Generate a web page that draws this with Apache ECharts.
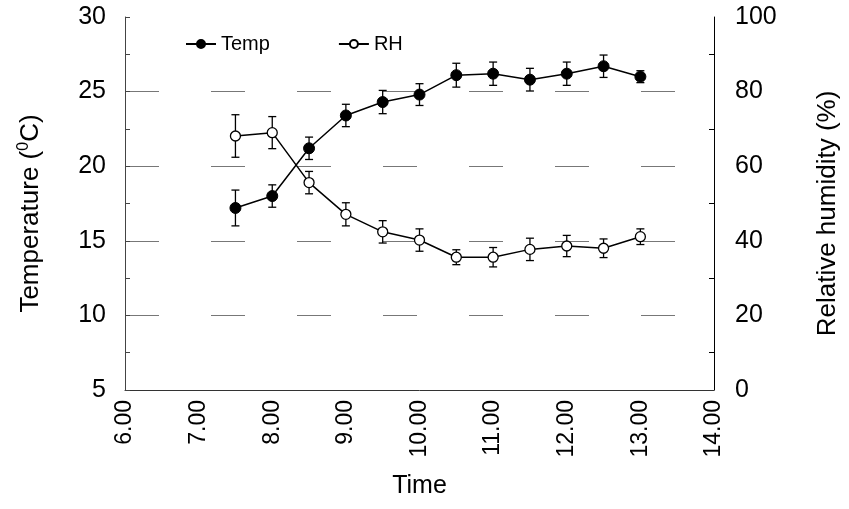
<!DOCTYPE html>
<html>
<head>
<meta charset="utf-8">
<script src="https://cdn.jsdelivr.net/npm/echarts@6/dist/echarts.min.js"></script>
<style>html,body{margin:0;padding:0;background:#fff;}#c{width:849px;height:509px;}</style>
</head>
<body>
<div id="c"></div>
<script>
// ---- data ----
const times   = [7.5, 8.0, 8.5, 9.0, 9.5, 10.0, 10.5, 11.0, 11.5, 12.0, 12.5, 13.0];
const temp    = [17.2, 18.0, 21.2, 23.4, 24.3, 24.8, 26.1, 26.2, 25.8, 26.2, 26.7, 26.0];
const tempErr = [1.2, 0.75, 0.75, 0.75, 0.78, 0.73, 0.8, 0.78, 0.76, 0.78, 0.75, 0.4];
const rh      = [68.1, 69.0, 55.6, 47.1, 42.4, 40.2, 35.6, 35.6, 37.7, 38.6, 38.0, 41.1];
const rhErr   = [5.7, 4.3, 3.0, 3.1, 3.0, 3.0, 2.0, 2.6, 3.0, 2.85, 2.5, 2.1];
const seriesNames = ['Temp', 'RH'];

const FONT = 'Liberation Sans, Arial, sans-serif';

function pairs(xs, ys) { return xs.map((x, i) => [x, ys[i]]); }
function errData(xs, ys, es) { return xs.map((x, i) => [x, ys[i] - es[i], ys[i] + es[i]]); }

function errRender(params, api) {
  const x = api.value(0), lo = api.value(1), hi = api.value(2);
  const p1 = api.coord([x, hi]);
  const p2 = api.coord([x, lo]);
  const w = 4;
  const st = { stroke: '#000', lineWidth: 1.3 };
  return {
    type: 'group',
    children: [
      { type: 'line', shape: { x1: p1[0], y1: p1[1], x2: p2[0], y2: p2[1] }, style: st },
      { type: 'line', shape: { x1: p1[0] - w, y1: p1[1], x2: p1[0] + w, y2: p1[1] }, style: st },
      { type: 'line', shape: { x1: p2[0] - w, y1: p2[1], x2: p2[0] + w, y2: p2[1] }, style: st }
    ]
  };
}

const chart = echarts.init(document.getElementById('c'), null, { renderer: 'canvas' });
chart.setOption({
  animation: false,
  backgroundColor: '#fff',
  textStyle: { fontFamily: FONT, color: '#000' },
  grid: { left: 125, right: 132, top: 17, bottom: 119, containLabel: false },
  legend: {
    left: 185, top: 34, padding: 0,
    itemWidth: 30, itemHeight: 10, itemGap: 68,
    data: seriesNames,
    textStyle: { fontFamily: FONT, fontSize: 20, color: '#000' }
  },
  xAxis: {
    type: 'value', min: 6, max: 14, interval: 1,
    name: 'Time', nameLocation: 'middle', nameGap: 84,
    nameTextStyle: { fontFamily: FONT, fontSize: 25, color: '#000' },
    axisLine: { lineStyle: { color: '#333', width: 1 } },
    axisTick: { show: false },
    axisLabel: { rotate: 90, margin: 10, fontFamily: FONT, fontSize: 23, color: '#000',
                 formatter: v => v.toFixed(2) },
    splitLine: { show: false }
  },
  yAxis: [
    {
      type: 'value', min: 5, max: 30, interval: 5,
      name: '{a|Temperature (}{s|0}{a|C)}', nameLocation: 'middle', nameRotate: 90, nameGap: 79,
      nameTextStyle: {
        padding: [0, 20, 0, 0],
        rich: {
          a: { fontFamily: FONT, fontSize: 26, color: '#000', lineHeight: 30 },
          s: { fontFamily: FONT, fontSize: 16, color: '#000', lineHeight: 16, verticalAlign: 'top' }
        }
      },
      axisLine: { show: true, lineStyle: { color: '#444', width: 1 } },
      axisTick: { show: true, inside: true, length: 5, lineStyle: { color: '#444' } },
      minorTick: { show: true, splitNumber: 2, length: 5, lineStyle: { color: '#444' } },
      axisLabel: { margin: 19, fontFamily: FONT, fontSize: 25, color: '#000' },
      splitLine: { show: true, showMaxLine: false, showMinLine: false,
                   lineStyle: { color: '#777', width: 1, type: [34, 52] } }
    },
    {
      type: 'value', min: 0, max: 100, interval: 20,
      name: 'Relative humidity (%)', nameLocation: 'middle', nameRotate: 90, nameGap: 101,
      nameTextStyle: { fontFamily: FONT, fontSize: 26, color: '#000', padding: [0, 20, 0, 0] },
      axisLine: { show: true, lineStyle: { color: '#000', width: 1 } },
      axisTick: { show: false, inside: true },
      minorTick: { show: true, splitNumber: 2, length: 5, lineStyle: { color: '#000' } },
      axisLabel: { margin: 21, fontFamily: FONT, fontSize: 25, color: '#000' },
      splitLine: { show: false }
    }
  ],
  series: [
    {
      type: 'custom', yAxisIndex: 0, z: 1, silent: true,
      renderItem: errRender,
      encode: { x: 0, y: [1, 2] },
      data: errData(times, temp, tempErr)
    },
    {
      type: 'custom', yAxisIndex: 1, z: 1, silent: true,
      renderItem: errRender,
      encode: { x: 0, y: [1, 2] },
      data: errData(times, rh, rhErr)
    },
    {
      name: seriesNames[0], type: 'line', yAxisIndex: 0, z: 3,
      data: pairs(times, temp),
      symbol: 'circle', symbolSize: 11,
      lineStyle: { color: '#000', width: 1.5 },
      itemStyle: { color: '#000', borderColor: '#000', borderWidth: 1 }
    },
    {
      name: seriesNames[1], type: 'line', yAxisIndex: 1, z: 3,
      data: pairs(times, rh),
      symbol: 'circle', symbolSize: 10,
      lineStyle: { color: '#000', width: 1.5 },
      itemStyle: { color: '#fff', borderColor: '#000', borderWidth: 1.3 }
    }
  ]
});
</script>
</body>
</html>
